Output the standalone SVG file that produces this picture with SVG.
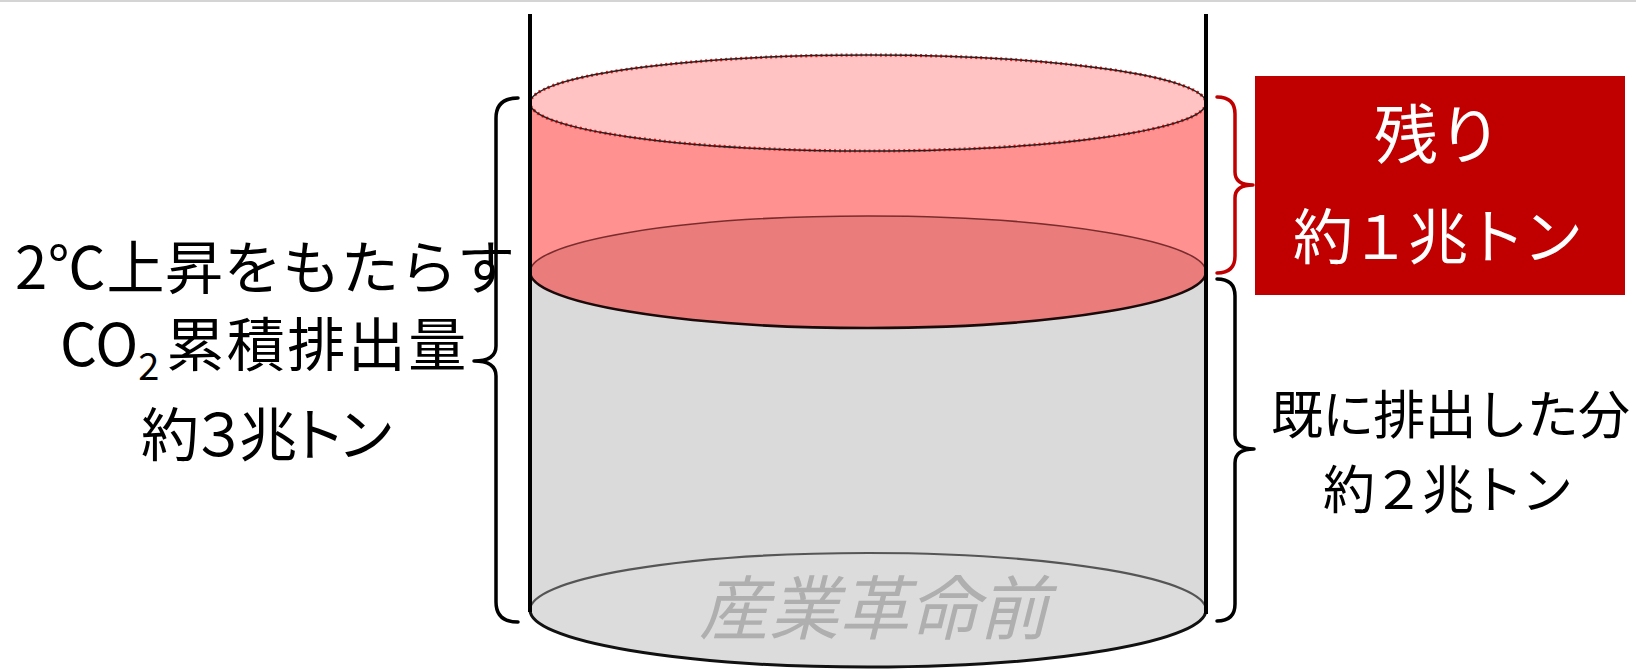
<svg xmlns="http://www.w3.org/2000/svg" width="1636" height="669" viewBox="0 0 1636 669">
  <style>
    .jp { font-family: "Noto Sans CJK JP", "Noto Sans", sans-serif; }
    .dark { fill: #000; }
    .brace { fill: none; stroke-width: 3.5; stroke-linecap: round; stroke-linejoin: round; }
    .wall { stroke: #000; stroke-width: 4; }
  </style>
  <rect x="0" y="0" width="1636" height="669" fill="#fff"/>
  <line x1="0" y1="1" x2="1636" y2="1" stroke="#d4d4d4" stroke-width="2"/>

  <!-- Cylinder: grey emitted part below, translucent red remaining part above -->
  <g id="cylinder">
    <path d="M530,272 L530,610 A338,57 0 0 0 1206,610 L1206,272 A338,56 0 0 0 530,272 Z" fill="#dadada"/>
    <!-- bottom face -->
    <ellipse cx="868" cy="610" rx="338" ry="57" fill="#dcdcdc"/>
    <path d="M530,610 A338,57 0 0 1 1206,610" fill="none" stroke="#555" stroke-width="2.2"/>
    <path d="M530,610 A338,57 0 0 0 1206,610" fill="none" stroke="#111" stroke-width="3"/>
    <!-- red translucent band -->
    <path d="M530,103 L530,272 A338,56 0 0 0 1206,272 L1206,103 A338,48 0 0 0 530,103 Z" fill="#ff0000" fill-opacity="0.43"/>
    <path d="M530,272 A338,56 0 0 1 1206,272" fill="none" stroke="#7a2c2c" stroke-width="1.6"/>
    <path d="M530,272 A338,56 0 0 0 1206,272" fill="none" stroke="#1a0a0a" stroke-width="2.6"/>
    <!-- top face -->
    <ellipse cx="868" cy="103" rx="338" ry="48" fill="#ffc3c3"/>
    <ellipse cx="868" cy="103" rx="338" ry="48" fill="none" stroke="#ff1a1a" stroke-width="3.2" stroke-dasharray="2 3"/>
    <ellipse cx="868" cy="103" rx="338" ry="48" fill="none" stroke="#222" stroke-width="1.5"/>
    <!-- walls -->
    <line class="wall" x1="530" y1="14" x2="530" y2="612"/>
    <line class="wall" x1="1206" y1="14" x2="1206" y2="614"/>
    <text class="jp" x="874" y="634" font-size="70" font-style="italic" fill="#afafaf" text-anchor="middle">産業革命前</text>
  </g>

  <!-- Braces -->
  <g id="braces">
    <path class="brace" stroke="#000" d="M518,98 Q496,98 496,118 L496,346 Q496,361 474,361 Q496,361 496,376 L496,602 Q496,622 518,622"/>
    <path class="brace" stroke="#c00000" d="M1217,97 Q1235,97 1235,114 L1235,172 Q1235,185 1253,185 Q1235,185 1235,198 L1235,256 Q1235,273 1217,273"/>
    <path class="brace" stroke="#000" d="M1217,279 Q1235,279 1235,296 L1235,435 Q1235,449 1254,449 Q1235,449 1235,463 L1235,604 Q1235,621 1217,621"/>
  </g>

  <!-- Total budget label -->
  <g id="label-total" class="jp dark">
    <text x="15" y="289" font-size="58" textLength="500" lengthAdjust="spacing">2℃上昇をもたらす</text>
    <text x="60" y="366" font-size="58">CO<tspan font-size="38" dy="14">2</tspan><tspan dy="-14" dx="7" letter-spacing="2.5">累積排出量</tspan></text>
    <text x="141" y="456" font-size="58" textLength="254" lengthAdjust="spacing">約３兆トン</text>
  </g>

  <!-- Remaining budget box -->
  <g id="label-remaining">
    <rect x="1255" y="76" width="370" height="219" fill="#c00000"/>
    <text class="jp" x="1438" y="158" font-size="64" fill="#fff" text-anchor="middle">残り</text>
    <text class="jp" x="1293" y="259" font-size="60" fill="#fff" textLength="290" lengthAdjust="spacing">約１兆トン</text>
  </g>

  <!-- Already emitted label -->
  <g id="label-emitted" class="jp dark">
    <text x="1271" y="434" font-size="52" textLength="359" lengthAdjust="spacing">既に排出した分</text>
    <text x="1323" y="509" font-size="52" textLength="250" lengthAdjust="spacing">約２兆トン</text>
  </g>
</svg>
